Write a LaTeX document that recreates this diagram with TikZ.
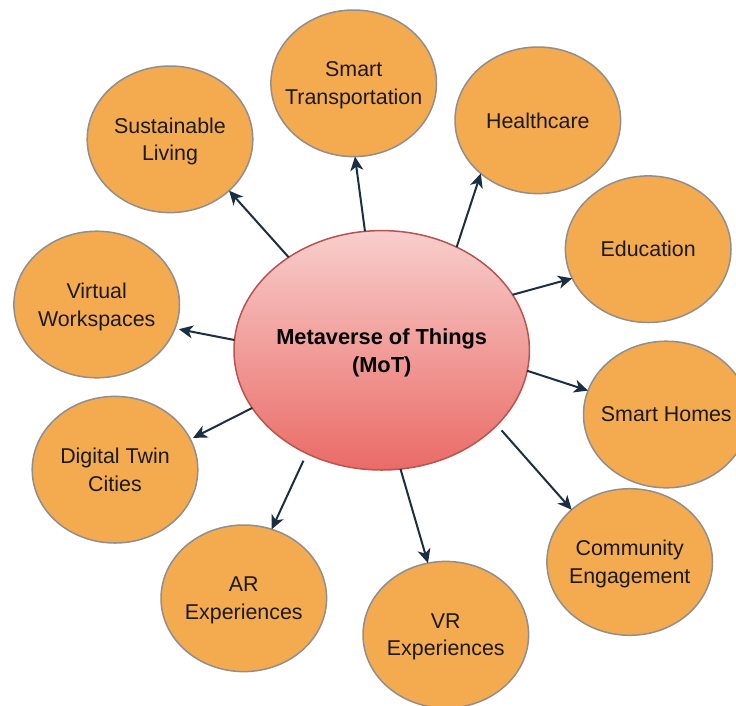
\documentclass[tikz,border=0pt]{standalone}
\usepackage{fontspec}
\setmainfont{Liberation Sans}
\usetikzlibrary{shapes.geometric,arrows.meta}
\definecolor{topicfill}{HTML}{F4AA4F}
\definecolor{topicline}{HTML}{8F8F8F}
\definecolor{hubtop}{HTML}{F8CECC}
\definecolor{hubbot}{HTML}{EA6B66}
\definecolor{hubline}{HTML}{B85450}
\definecolor{linkcol}{HTML}{1B2F43}
\definecolor{txt}{HTML}{1A1A1A}

\begin{document}
\begin{tikzpicture}[x=1pt,y=-1pt,
  topictext/.style={align=center, text=txt, inner sep=0pt, text depth=0pt,
    font=\fontsize{21.4}{27.7}\selectfont},
  hubtext/.style={align=center, text=black, inner sep=0pt, text depth=0pt,
    font=\fontsize{21.8}{27.7}\selectfont\bfseries},
  topic/.style={ellipse, draw=topicline, line width=1.5pt, fill=topicfill,
    minimum width=165.6pt, minimum height=146.6pt, inner sep=0pt, outer sep=0pt,
    label={[topictext]center:#1}},
  hub/.style={ellipse, draw=hubline, line width=1.5pt, top color=hubtop, bottom color=hubbot,
    minimum width=295.4pt, minimum height=239.4pt, inner sep=0pt, outer sep=0pt,
    label={[hubtext]center:#1}},
  link/.style={draw=linkcol, line width=2pt, -{Stealth[length=14pt,width=13pt,inset=4pt]}}]

\clip (0,0) rectangle (736,705);
\fill[white] (0,0) rectangle (736,705);

% central concept
\node[hub={Metaverse of Things\\(MoT)}] (mot) at (381.7,350.3) {};

% application areas
\node[topic={Smart\\Transportation}] (st) at (353.7,83.3)  {};
\node[topic={Healthcare}]            (hc) at (537.8,120.3) {};
\node[topic={Sustainable\\Living}]   (sl) at (170,139.3)   {};
\node[topic={Education}]             (ed) at (648.2,249.2) {};
\node[topic={Virtual\\Workspaces}]   (vw) at (96.7,304.5)  {};
\node[topic={Smart Homes}]           (sh) at (666.3,414.5) {};
\node[topic={Digital Twin\\Cities}]  (dt) at (115,469.7)   {};
\node[topic={Community\\Engagement}] (ce) at (629.7,562)   {};
\node[topic={AR\\Experiences}]       (ar) at (243.8,598.3) {};
\node[topic={VR\\Experiences}]       (vr) at (445.8,634.7) {};

% links from the hub
\draw[link] (mot.98.7) -- (st.-89);
\draw[link] (mot.54.3) -- (hc.-137.1);
\draw[link] (mot.135.2) -- (sl.-41.1);
\draw[link] (mot.23.2) -- (ed.-159.6);
\draw[link, shorten >=4pt] (mot.176.3) -- (vw.-17);
\draw[link] (mot.-8.7) -- (sh.163.2);
\draw[link, shorten >=3pt] (mot.-156.3) -- (dt.22.9);
\draw[link, shorten <=7pt] (mot.-33.6) -- (ce.138.1);
\draw[link, shorten <=8pt] (mot.-126.9) -- (ar.68.3);
\draw[link] (mot.-81.3) -- (vr.104.9);
\end{tikzpicture}
\end{document}
